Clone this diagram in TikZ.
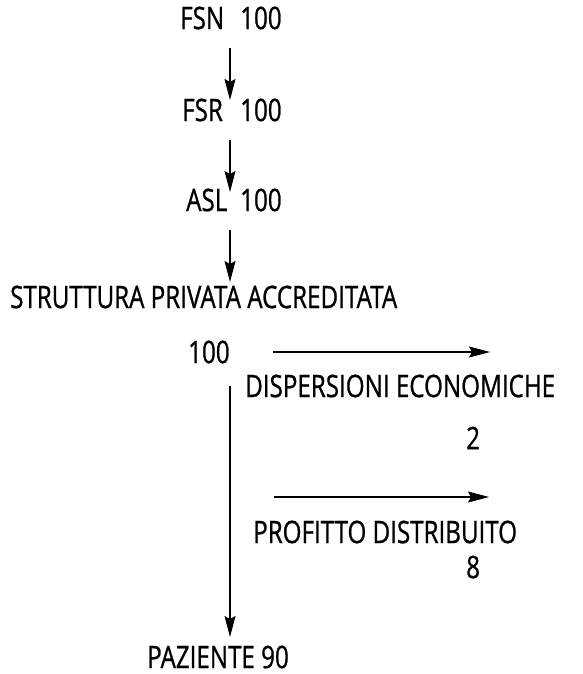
\documentclass[tikz,border=0pt]{standalone}
\usepackage{fontspec}
\setmainfont[FakeStretch=0.78, FakeBold=0.8]{Open Sans}
\usetikzlibrary{arrows.meta}

\begin{document}
\begin{tikzpicture}[x=1pt, y=-1pt,
      every node/.style = {inner sep=0pt, anchor=west,
        font=\fontsize{31}{38}\selectfont},
      flow/.style = {-{Stealth[length=21pt, width=11pt, inset=3pt]},
        line width=1.2pt}]
  \useasboundingbox (0,0) rectangle (583,674);
  \node (fsn) at (180,18) {FSN};
  \node (fsnv) at (240,18) {100};
  \node (fsr) at (182,110) {FSR};
  \node (fsrv) at (240,110) {100};
  \node (asl) at (186,200) {ASL};
  \node (aslv) at (240,200) {100};
  \node (spa) at (10,297) {STRUTTURA PRIVATA ACCREDITATA};
  \node (spav) at (188,352) {100};
  \node (disp) at (245,386) {DISPERSIONI ECONOMICHE};
  \node (dispv) at (466,438) {2};
  \node (prof) at (253,532) {PROFITTO DISTRIBUITO};
  \node (profv) at (466,567) {8};
  \node (paz) at (147,657) {PAZIENTE 90};
  % arrow ends
  \coordinate (a1) at (230,48);  \coordinate (b1) at (230,100);
  \coordinate (a2) at (230,140); \coordinate (b2) at (230,192);
  \coordinate (a3) at (230,230); \coordinate (b3) at (230,282);
  \coordinate (a4) at (230,386); \coordinate (b4) at (230,637);
  \coordinate (h1) at (273,352); \coordinate (k1) at (490,352);
  \coordinate (h2) at (274,497); \coordinate (k2) at (489,497);
  \draw[flow] (a1) -- (b1);
  \draw[flow] (a2) -- (b2);
  \draw[flow] (a3) -- (b3);
  \draw[flow] (a4) -- (b4);
  \draw[flow] (h1) -- (k1);
  \draw[flow] (h2) -- (k2);
\end{tikzpicture}
\end{document}
